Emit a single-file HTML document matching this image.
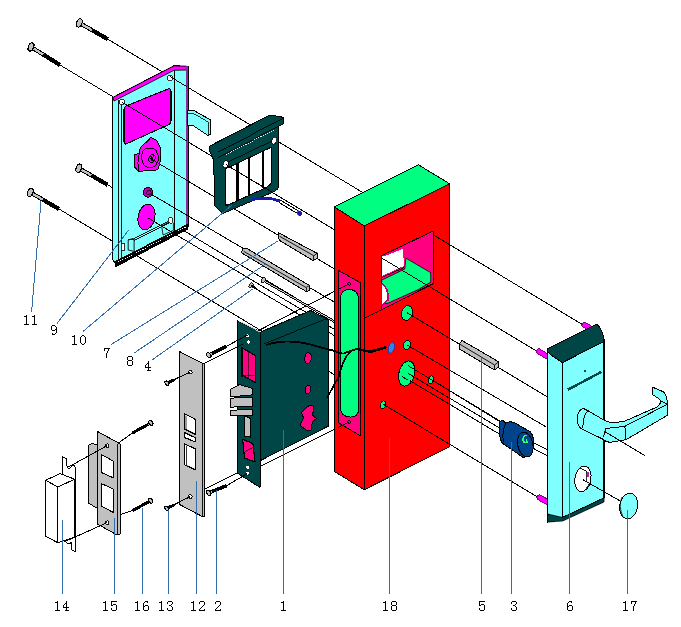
<!DOCTYPE html>
<html><head><meta charset="utf-8"><style>html,body{margin:0;padding:0;background:#fff;width:681px;height:627px;overflow:hidden}svg{display:block}</style></head>
<body><svg width="681" height="627" viewBox="0 0 681 627" shape-rendering="crispEdges"><line x1="107.0" y1="38.7" x2="586.0" y2="326.7" stroke="#000" stroke-width="1"/>
<line x1="60.0" y1="65.0" x2="541.0" y2="353.7" stroke="#000" stroke-width="1"/>
<line x1="148.0" y1="157.0" x2="582.0" y2="417.8" stroke="#000" stroke-width="1"/>
<line x1="148.0" y1="192.3" x2="546.0" y2="426.9" stroke="#000" stroke-width="1"/>
<line x1="107.0" y1="184.4" x2="500.0" y2="421.0" stroke="#000" stroke-width="1"/>
<line x1="146.0" y1="216.7" x2="500.0" y2="428.3" stroke="#000" stroke-width="1"/>
<line x1="59.0" y1="209.0" x2="542.0" y2="499.8" stroke="#000" stroke-width="1"/>
<line x1="250.0" y1="285.3" x2="500.0" y2="434.4" stroke="#000" stroke-width="1"/>
<line x1="431.6" y1="379.6" x2="499.7" y2="421.5" stroke="#000" stroke-width="1"/>
<line x1="248.0" y1="336.0" x2="349.2" y2="283.8" stroke="#000" stroke-width="1"/>
<line x1="249.0" y1="472.0" x2="349.2" y2="422.0" stroke="#000" stroke-width="1"/>
<line x1="203.4" y1="364.0" x2="241.3" y2="344.7" stroke="#000" stroke-width="1"/>
<line x1="204.3" y1="489.3" x2="237.8" y2="472.6" stroke="#000" stroke-width="1"/>
<line x1="226.3" y1="346.4" x2="247.5" y2="335.0" stroke="#000" stroke-width="1"/>
<line x1="226.3" y1="485.8" x2="247.5" y2="473.5" stroke="#000" stroke-width="1"/>
<line x1="172.6" y1="380.8" x2="190.2" y2="372.0" stroke="#000" stroke-width="1"/>
<line x1="172.6" y1="505.5" x2="190.2" y2="496.7" stroke="#000" stroke-width="1"/>
<line x1="107.0" y1="445.7" x2="68.6" y2="466.9" stroke="#000" stroke-width="1"/>
<line x1="107.0" y1="522.7" x2="64.6" y2="541.7" stroke="#000" stroke-width="1"/>
<line x1="119.3" y1="442.3" x2="132.9" y2="432.7" stroke="#000" stroke-width="1"/>
<line x1="119.3" y1="514.9" x2="132.9" y2="510.5" stroke="#000" stroke-width="1"/>
<line x1="533.0" y1="442.5" x2="547.0" y2="449.6" stroke="#000" stroke-width="1"/>
<line x1="532.0" y1="447.7" x2="547.0" y2="455.6" stroke="#000" stroke-width="1"/>
<line x1="79.3" y1="22.9" x2="91.9" y2="30.1" stroke="#000" stroke-width="4.2"/>
<line x1="79.3" y1="22.9" x2="91.9" y2="30.1" stroke="#c0c0c0" stroke-width="2.2"/>
<line x1="91.9" y1="30.1" x2="107.7" y2="39.1" stroke="#000" stroke-width="4.2"/>
<ellipse cx="79.3" cy="22.9" rx="2.6" ry="4.3" fill="#c0c0c0" stroke="#000" stroke-width="1.1" transform="rotate(19.701409545410577 79.3 22.9)"/>
<line x1="31.0" y1="47.0" x2="43.3" y2="54.6" stroke="#000" stroke-width="4.2"/>
<line x1="31.0" y1="47.0" x2="43.3" y2="54.6" stroke="#c0c0c0" stroke-width="2.2"/>
<line x1="43.3" y1="54.6" x2="60.0" y2="65.0" stroke="#000" stroke-width="4.2"/>
<ellipse cx="31.0" cy="47.0" rx="2.6" ry="4.3" fill="#c0c0c0" stroke="#000" stroke-width="1.1" transform="rotate(21.827446576673108 31.0 47.0)"/>
<line x1="78.8" y1="168.2" x2="91.4" y2="175.4" stroke="#000" stroke-width="4.2"/>
<line x1="78.8" y1="168.2" x2="91.4" y2="175.4" stroke="#c0c0c0" stroke-width="2.2"/>
<line x1="91.4" y1="175.4" x2="107.6" y2="184.8" stroke="#000" stroke-width="4.2"/>
<ellipse cx="78.8" cy="168.2" rx="2.6" ry="4.3" fill="#c0c0c0" stroke="#000" stroke-width="1.1" transform="rotate(19.958670526819375 78.8 168.2)"/>
<line x1="30.3" y1="192.4" x2="42.9" y2="199.7" stroke="#000" stroke-width="4.2"/>
<line x1="30.3" y1="192.4" x2="42.9" y2="199.7" stroke="#c0c0c0" stroke-width="2.2"/>
<line x1="42.9" y1="199.7" x2="59.0" y2="209.0" stroke="#000" stroke-width="4.2"/>
<ellipse cx="30.3" cy="192.4" rx="2.6" ry="4.3" fill="#c0c0c0" stroke="#000" stroke-width="1.1" transform="rotate(20.0449686813477 30.3 192.4)"/>
<polygon points="112.8,97.5 174.0,65.8 188.0,66.3 188.0,227.0 116.6,265.5 113.0,260.0" fill="#80ffff" stroke="#000" stroke-width="1" stroke-linejoin="round" />
<polygon points="112.8,97.5 174.0,65.8 186.5,66.2 186.5,70.0 174.0,70.3 114.0,101.0" fill="#ff00ff" stroke="#000" stroke-width="0.9" stroke-linejoin="round" />
<rect x="185.8" y="66" width="2.4" height="161" fill="#8a2aa0"/>
<line x1="174.5" y1="70.0" x2="174.5" y2="232.0" stroke="#000" stroke-width="1"/>
<line x1="118.6" y1="100.0" x2="118.6" y2="262.0" stroke="#000" stroke-width="0.9"/>
<line x1="121.0" y1="100.0" x2="121.0" y2="262.0" stroke="#000" stroke-width="0.9"/>
<polygon points="114.6,262.0 187.5,224.5 187.5,229.0 116.0,266.5" fill="#000" stroke="#000" stroke-width="1" stroke-linejoin="round" />
<line x1="118" y1="262.2" x2="186" y2="227" stroke="#fff" stroke-width="1" stroke-dasharray="1,1.5"/>
<path d="M126,106 L168,89 Q171,88 171,91 L171,121 Q171,124 168,125 L127,143.5 Q124,145 124,142 L124,109 Q124,107 126,106 Z" fill="#ff00ff" stroke="#000" stroke-width="1.1" stroke-linejoin="round" />
<ellipse cx="170.0" cy="78.0" rx="2.5" ry="3.2" fill="#fff" stroke="#000" stroke-width="0.8" transform="rotate(0 170.0 78.0)"/>
<ellipse cx="122.0" cy="102.0" rx="2.5" ry="3.2" fill="#fff" stroke="#000" stroke-width="0.8" transform="rotate(0 122.0 102.0)"/>
<path d="M150.5,137.4 L156.9,140.6 L160.1,147 L160.1,161.3 L158.5,168.5 L155.3,170.5 L148.9,170.1 L138.6,171.7 L134.6,166.9 L134.2,154.9 L139.4,153.3 L140.2,147.8 L144.1,143.8 L148.1,140.6 Z" fill="#ff00ff" stroke="#000" stroke-width="1" stroke-linejoin="round" />
<path d="M139.4,153.3 Q137,162 138.6,171.5" fill="none" stroke="#000" stroke-width="1" stroke-linejoin="round" />
<path d="M143,151 Q146,147 151,149 Q156,148 157,153 Q160,158 157,163 Q155,168 150,167 Q145,168 143,163 Q140,157 143,151 Z" fill="none" stroke="#000" stroke-width="1" stroke-linejoin="round" />
<ellipse cx="152.0" cy="158.5" rx="3" ry="4" fill="none" stroke="#000" stroke-width="1" transform="rotate(20 152.0 158.5)"/>
<line x1="150.0" y1="155.0" x2="154.0" y2="162.0" stroke="#000" stroke-width="1.2"/>
<line x1="154.0" y1="155.0" x2="151.0" y2="161.0" stroke="#000" stroke-width="1"/>
<ellipse cx="148.0" cy="192.3" rx="4.8" ry="5" fill="#b000b0" stroke="#000" stroke-width="1" transform="rotate(0 148.0 192.3)"/>
<ellipse cx="149.0" cy="192.5" rx="2.2" ry="2.6" fill="none" stroke="#000" stroke-width="0.7" transform="rotate(0 149.0 192.5)"/>
<ellipse cx="146.5" cy="217.0" rx="8.4" ry="13" fill="#ff00ff" stroke="#000" stroke-width="1" transform="rotate(12 146.5 217.0)"/>
<polygon points="128.2,240.0 133.0,238.5 134.1,239.1 134.1,251.4 128.2,250.0" fill="#80ffff" stroke="#000" stroke-width="0.9" stroke-linejoin="round" />
<line x1="128.2" y1="240.0" x2="134.1" y2="239.1" stroke="#000" stroke-width="0.8"/>
<line x1="134.1" y1="238.5" x2="171.1" y2="219.7" stroke="#000" stroke-width="0.9"/>
<line x1="134.1" y1="240.5" x2="171.1" y2="221.7" stroke="#000" stroke-width="0.9"/>
<line x1="136" y1="239.5" x2="169" y2="222.7" stroke="#000" stroke-width="0.8" stroke-dasharray="1,1"/>
<polygon points="161.7,226.0 171.0,221.0 173.4,223.0 173.4,230.3 163.0,235.0" fill="none" stroke="#000" stroke-width="0.8" stroke-linejoin="round" />
<ellipse cx="170.5" cy="220.3" rx="2.2" ry="2.8" fill="#fff" stroke="#000" stroke-width="0.8" transform="rotate(0 170.5 220.3)"/>
<rect x="121.2" y="243.8" width="3.5" height="6.4" fill="#fff" stroke="#000" stroke-width="0.8"/>
<polygon points="187.5,110.4 193.6,110.4 210.2,119.7 210.5,134.5 208.0,135.5 192.9,125.5 187.5,125.5" fill="#80ffff" stroke="#000" stroke-width="1" stroke-linejoin="round" />
<line x1="187.5" y1="113.5" x2="193.6" y2="113.5" stroke="#000" stroke-width="0.8"/>
<line x1="193.6" y1="113.5" x2="208.0" y2="122.0" stroke="#000" stroke-width="0.8"/>
<line x1="208.0" y1="122.0" x2="208.0" y2="135.5" stroke="#000" stroke-width="0.8"/>
<line x1="170.0" y1="76.6" x2="187.5" y2="87.1" stroke="#000" stroke-width="1"/>
<line x1="122.0" y1="102.2" x2="187.5" y2="141.5" stroke="#000" stroke-width="1"/>
<line x1="150.0" y1="158.2" x2="187.5" y2="180.7" stroke="#000" stroke-width="1"/>
<line x1="150.0" y1="193.5" x2="187.5" y2="215.6" stroke="#000" stroke-width="1"/>
<line x1="148.0" y1="217.9" x2="176.0" y2="234.6" stroke="#000" stroke-width="1"/>
<path d="M209.4,146.2 L268.7,115.6 L279.9,116.2 L283.7,118.1 L283.7,123.7 L278.7,126 L278.7,187.3 Q277.5,191 266,195 L222.6,213.6 L214.7,205.7 L213.7,160 L209.4,151 Z M225.2,169 L271.7,147 L271.7,181 Q271,186 262,189.5 L226,206 Z" fill="#004646" stroke="#000" stroke-width="1" stroke-linejoin="round" fill-rule="evenodd"/>
<line x1="217.5" y1="151.8" x2="283.7" y2="118.1" stroke="#000" stroke-width="0.9"/>
<line x1="217.5" y1="157.4" x2="283.7" y2="123.7" stroke="#000" stroke-width="0.9"/>
<line x1="226.2" y1="154.3" x2="274.3" y2="130" stroke="#fff" stroke-width="0.9" stroke-dasharray="1.2,1.2"/>
<line x1="226.0" y1="163.0" x2="274.0" y2="140.0" stroke="#000" stroke-width="0.8"/>
<rect x="236.4" y="162.7" width="2.2" height="38.3" fill="#000"/>
<rect x="248.2" y="157.1" width="2.2" height="38.2" fill="#000"/>
<rect x="261.9" y="150.6" width="2.2" height="37.8" fill="#000"/>
<ellipse cx="225.6" cy="164.3" rx="2.5" ry="3.8" fill="#fff" stroke="#000" stroke-width="0.8" transform="rotate(20 225.6 164.3)"/>
<ellipse cx="274.3" cy="140.6" rx="2.5" ry="3.8" fill="#fff" stroke="#000" stroke-width="0.8" transform="rotate(20 274.3 140.6)"/>
<line x1="226.0" y1="164.6" x2="271.7" y2="192.0" stroke="#000" stroke-width="1"/>
<path d="M252,199.8 Q266,196 280,201" fill="none" stroke="#1a1aa8" stroke-width="2.8" stroke-linejoin="round" />
<line x1="280.0" y1="199.8" x2="298.0" y2="210.8" stroke="#000" stroke-width="1"/>
<line x1="279.0" y1="202.5" x2="297.0" y2="213.2" stroke="#000" stroke-width="1"/>
<ellipse cx="299.5" cy="213.3" rx="2.6" ry="2.2" fill="#1a1aa8" stroke="#1a1aa8" stroke-width="0.5" transform="rotate(30 299.5 213.3)"/>
<polygon points="278.7,232.9 317.0,253.3 317.0,258.2 313.2,260.7 279.3,240.3 278.1,236.0" fill="#c0c0c0" stroke="#000" stroke-width="1" stroke-linejoin="round" />
<polyline points="280.0,236.5 313.9,255.8 317.0,253.3" fill="none" stroke="#000" stroke-width="0.9" stroke-linejoin="round" stroke-linecap="round"/>
<line x1="313.9" y1="255.8" x2="313.5" y2="260.5" stroke="#000" stroke-width="0.9"/>
<polygon points="242.3,249.0 246.0,248.0 309.5,285.5 309.5,290.0 307.0,292.0 241.7,253.0" fill="#c0c0c0" stroke="#000" stroke-width="1" stroke-linejoin="round" />
<polyline points="244.0,251.5 306.0,287.5 309.5,285.5" fill="none" stroke="#000" stroke-width="0.9" stroke-linejoin="round" stroke-linecap="round"/>
<line x1="306.0" y1="287.5" x2="306.0" y2="292.0" stroke="#000" stroke-width="0.9"/>
<line x1="263.2" y1="280.2" x2="335.0" y2="321.9" stroke="#000" stroke-width="2.6"/>
<line x1="263.2" y1="280.2" x2="335.0" y2="321.9" stroke="#fff" stroke-width="0.8"/>
<ellipse cx="263.2" cy="280.2" rx="2" ry="2.8" fill="#c0c0c0" stroke="#000" stroke-width="0.9" transform="rotate(30 263.2 280.2)"/>
<ellipse cx="251.0" cy="285.5" rx="2" ry="2.8" fill="#c0c0c0" stroke="#000" stroke-width="0.9" transform="rotate(30 251.0 285.5)"/>
<line x1="251.0" y1="285.5" x2="257.0" y2="289.0" stroke="#000" stroke-width="1.8"/>
<polygon points="334.3,206.9 364.3,225.9 364.3,489.7 334.3,471.5" fill="#ff0000" stroke="#000" stroke-width="1" stroke-linejoin="round" />
<polygon points="364.3,225.9 449.6,183.8 449.6,446.7 364.3,489.7" fill="#ff0000" stroke="#000" stroke-width="1" stroke-linejoin="round" />
<polygon points="334.3,206.9 418.3,164.7 449.6,183.8 364.3,225.9" fill="#00ff80" stroke="#000" stroke-width="1" stroke-linejoin="round" />
<polygon points="338.4,270.4 360.1,282.5 360.7,436.0 338.4,422.7" fill="#ff0080" stroke="#000" stroke-width="1" stroke-linejoin="round" />
<path d="M340.3,300 Q340.3,289.5 349.2,289.5 Q358.8,289.5 358.8,302 L358.8,408 Q358.8,417 350.5,417 Q340.3,417 340.3,406 Z" fill="#00ff80" stroke="#000" stroke-width="1" stroke-linejoin="round" />
<ellipse cx="349.2" cy="283.8" rx="1.4" ry="1.4" fill="none" stroke="#000" stroke-width="0.9" transform="rotate(0 349.2 283.8)"/>
<ellipse cx="349.2" cy="422.0" rx="1.4" ry="1.4" fill="none" stroke="#000" stroke-width="0.9" transform="rotate(0 349.2 422.0)"/>
<polygon points="381.2,255.9 433.0,231.2 433.0,283.7 381.2,310.0" fill="#ff0080" stroke="#000" stroke-width="1" stroke-linejoin="round" />
<polygon points="381.6,256.2 384.7,256.2 402.6,248.9 404.3,265.7 381.6,276.2" fill="#fff" stroke="none" stroke-width="0" stroke-linejoin="round" />
<line x1="381.6" y1="277.5" x2="404.3" y2="267.5" stroke="#000" stroke-width="0.8"/>
<polygon points="381.6,280.2 404.8,269.0 405.9,258.2 430.6,272.6 430.6,282.2 418.0,289.7 388.0,303.1 381.6,304.0" fill="#00ff80" stroke="#000" stroke-width="0.8" stroke-linejoin="round" />
<path d="M381.6,283.5 Q389,288 388,300 L381.6,305.3 Z" fill="#fff" stroke="#c00070" stroke-width="1.5" stroke-linejoin="round" />
<line x1="381.5" y1="257.9" x2="431.0" y2="287.6" stroke="#000" stroke-width="1"/>
<line x1="364.3" y1="318.3" x2="381.2" y2="309.9" stroke="#000" stroke-width="1"/>
<ellipse cx="407.0" cy="313.0" rx="5.5" ry="7.5" fill="#00ff80" stroke="#000" stroke-width="1" transform="rotate(15 407.0 313.0)"/>
<ellipse cx="407.0" cy="345.0" rx="3.5" ry="5" fill="#00ff80" stroke="#000" stroke-width="1" transform="rotate(15 407.0 345.0)"/>
<ellipse cx="406.7" cy="373.5" rx="7.8" ry="12.8" fill="#00ff80" stroke="#000" stroke-width="1" transform="rotate(14 406.7 373.5)"/>
<ellipse cx="430.8" cy="379.6" rx="2.5" ry="4" fill="#00ff80" stroke="#000" stroke-width="1" transform="rotate(15 430.8 379.6)"/>
<ellipse cx="383.0" cy="404.6" rx="2.8" ry="4" fill="#00ff80" stroke="#000" stroke-width="1" transform="rotate(15 383.0 404.6)"/>
<line x1="433.0" y1="234.7" x2="449.6" y2="244.7" stroke="#000" stroke-width="1"/>
<line x1="431.0" y1="287.6" x2="449.6" y2="298.8" stroke="#000" stroke-width="1"/>
<line x1="407.0" y1="312.7" x2="449.6" y2="338.3" stroke="#000" stroke-width="1"/>
<line x1="407.0" y1="344.9" x2="449.6" y2="370.0" stroke="#000" stroke-width="1"/>
<line x1="408.0" y1="365.6" x2="449.6" y2="390.6" stroke="#000" stroke-width="1"/>
<line x1="408.0" y1="373.3" x2="449.6" y2="398.2" stroke="#000" stroke-width="1"/>
<line x1="410.0" y1="380.7" x2="449.6" y2="404.3" stroke="#000" stroke-width="1"/>
<line x1="383.0" y1="404.1" x2="449.6" y2="444.2" stroke="#000" stroke-width="1"/>
<line x1="431.6" y1="379.6" x2="449.6" y2="390.6" stroke="#000" stroke-width="1"/>
<line x1="401.7" y1="376.3" x2="408.4" y2="380.2" stroke="#000" stroke-width="1"/>
<line x1="349.2" y1="283.8" x2="338.4" y2="289.5" stroke="#000" stroke-width="1"/>
<line x1="349.2" y1="422.0" x2="338.4" y2="427.5" stroke="#000" stroke-width="1"/>
<polygon points="259.5,332.5 310.6,310.5 328.4,320.0 328.6,426.0 259.5,461.0" fill="#004646" stroke="#000" stroke-width="1" stroke-linejoin="round" />
<polygon points="237.6,320.7 260.0,331.5 260.0,487.4 237.6,473.3" fill="#004646" stroke="#000" stroke-width="1" stroke-linejoin="round" />
<line x1="260.0" y1="331.5" x2="260.0" y2="487.4" stroke="#000" stroke-width="1"/>
<line x1="238.5" y1="321.0" x2="259.5" y2="331.5" stroke="#fff" stroke-width="0.8"/>
<polygon points="242.2,348.0 255.4,355.5 255.4,382.6 242.2,375.0" fill="#ff0080" stroke="#000" stroke-width="1.2" stroke-linejoin="round" />
<line x1="242.2" y1="375.0" x2="255.4" y2="375.0" stroke="#000" stroke-width="0.6"/>
<line x1="248.0" y1="352.0" x2="248.0" y2="378.0" stroke="#000" stroke-width="0.6"/>
<polygon points="242.6,439.3 252.9,443.5 255.0,462.0 244.6,458.0" fill="#ff0080" stroke="#000" stroke-width="1.2" stroke-linejoin="round" />
<line x1="243.5" y1="452.0" x2="254.0" y2="446.0" stroke="#000" stroke-width="0.7"/>
<polygon points="230.1,389.7 239.4,384.5 252.9,388.6 252.9,394.8 230.1,396.9" fill="#c0c0c0" stroke="#000" stroke-width="1" stroke-linejoin="round" />
<polygon points="230.1,399.0 236.0,397.5 252.9,397.9 252.9,406.2 230.1,407.2" fill="#c0c0c0" stroke="#000" stroke-width="1" stroke-linejoin="round" />
<polygon points="230.1,410.3 252.9,409.3 252.9,415.5 230.1,415.5" fill="#c0c0c0" stroke="#000" stroke-width="1" stroke-linejoin="round" />
<polygon points="244.6,415.5 250.8,418.6 250.8,437.2 244.6,436.2" fill="#c0c0c0" stroke="#000" stroke-width="1" stroke-linejoin="round" />
<ellipse cx="308.0" cy="358.1" rx="3.4" ry="5.4" fill="#ff0080" stroke="#000" stroke-width="1" transform="rotate(10 308.0 358.1)"/>
<ellipse cx="308.0" cy="389.4" rx="2.7" ry="4.4" fill="#ff0080" stroke="#000" stroke-width="1" transform="rotate(10 308.0 389.4)"/>
<polygon points="309.0,405.6 313.0,405.6 313.7,409.7 312.4,415.1 316.4,418.5 312.4,421.9 311.0,430.0 306.9,430.7 300.1,425.3 303.5,417.8 301.5,412.4 305.6,408.3" fill="#ff0080" stroke="#000" stroke-width="1" stroke-linejoin="round" />
<ellipse cx="247.5" cy="335.9" rx="1.6" ry="1.6" fill="#fff" stroke="none" stroke-width="0" transform="rotate(0 247.5 335.9)"/>
<ellipse cx="248.4" cy="342.0" rx="1.6" ry="1.6" fill="#fff" stroke="none" stroke-width="0" transform="rotate(0 248.4 342.0)"/>
<ellipse cx="247.8" cy="467.3" rx="1.6" ry="1.6" fill="#fff" stroke="none" stroke-width="0" transform="rotate(0 247.8 467.3)"/>
<ellipse cx="247.8" cy="473.1" rx="1.6" ry="1.6" fill="#fff" stroke="none" stroke-width="0" transform="rotate(0 247.8 473.1)"/>
<line x1="264.0" y1="344.0" x2="328.0" y2="318.0" stroke="#000" stroke-width="0.8"/>
<path d="M266,345 Q290,337 320,347.3 L332.8,350.5 L343,353.7 Q349,351 358.3,348.6 Q365,351 371,351.1 L386.3,346.7" fill="none" stroke="#000" stroke-width="1.8" stroke-linejoin="round" />
<path d="M327,398 L339.1,376 Q343,360 348,354.3 Q352,349.5 357,349.2 L371,352.4 L386.3,347.5" fill="none" stroke="#000" stroke-width="1.6" stroke-linejoin="round" />
<ellipse cx="391.4" cy="348.0" rx="2.8" ry="5.5" fill="#3a7ef0" stroke="#1a3aa0" stroke-width="0.8" transform="rotate(15 391.4 348.0)"/>
<line x1="226.3" y1="346.4" x2="247.5" y2="335.0" stroke="#000" stroke-width="1"/>
<line x1="226.3" y1="485.8" x2="247.5" y2="473.5" stroke="#000" stroke-width="1"/>
<line x1="203.4" y1="364.0" x2="242.5" y2="344.2" stroke="#000" stroke-width="1"/>
<line x1="242" y1="347" x2="242" y2="377" stroke="#000" stroke-width="1.5"/>
<line x1="208.7" y1="355.2" x2="212.3" y2="353.4" stroke="#000" stroke-width="3.5"/>
<line x1="208.7" y1="355.2" x2="212.3" y2="353.4" stroke="#c0c0c0" stroke-width="1.5"/>
<line x1="212.3" y1="353.4" x2="226.3" y2="346.4" stroke="#000" stroke-width="3.5"/>
<ellipse cx="208.7" cy="355.2" rx="1.8" ry="2.8" fill="#c0c0c0" stroke="#000" stroke-width="1.1" transform="rotate(-36.56505117707799 208.7 355.2)"/>
<line x1="208.7" y1="492.9" x2="212.4" y2="491.4" stroke="#000" stroke-width="3.5"/>
<line x1="208.7" y1="492.9" x2="212.4" y2="491.4" stroke="#c0c0c0" stroke-width="1.5"/>
<line x1="212.4" y1="491.4" x2="226.3" y2="485.8" stroke="#000" stroke-width="3.5"/>
<ellipse cx="208.7" cy="492.9" rx="1.8" ry="2.8" fill="#c0c0c0" stroke="#000" stroke-width="1.1" transform="rotate(-31.969596222987256 208.7 492.9)"/>
<polygon points="179.2,351.4 202.6,363.2 204.3,364.4 204.3,516.5 202.6,516.7 179.2,504.3" fill="#c0c0c0" stroke="#000" stroke-width="1" stroke-linejoin="round" />
<line x1="202.6" y1="363.2" x2="202.6" y2="516.7" stroke="#000" stroke-width="0.9"/>
<ellipse cx="190.2" cy="372.0" rx="2" ry="2" fill="#fff" stroke="#000" stroke-width="0.9" transform="rotate(0 190.2 372.0)"/>
<ellipse cx="190.2" cy="496.7" rx="2" ry="2" fill="#fff" stroke="#000" stroke-width="0.9" transform="rotate(0 190.2 496.7)"/>
<polygon points="184.2,413.6 195.2,419.2 195.2,434.4 184.2,428.7" fill="#fff" stroke="#000" stroke-width="1.2" stroke-linejoin="round" />
<polyline points="186.0,416.0 186.0,429.5" fill="none" stroke="#000" stroke-width="0.8" stroke-linejoin="round" stroke-linecap="round"/>
<polyline points="186.0,429.5 195.0,434.0" fill="none" stroke="#000" stroke-width="0.8" stroke-linejoin="round" stroke-linecap="round"/>
<polygon points="184.2,432.5 195.2,437.6 195.2,442.0 184.2,437.3" fill="#fff" stroke="#000" stroke-width="1.2" stroke-linejoin="round" />
<polygon points="184.8,444.0 195.2,448.9 195.2,469.7 184.8,465.0" fill="#fff" stroke="#000" stroke-width="1.2" stroke-linejoin="round" />
<polyline points="186.5,446.0 186.5,465.5 195.0,469.5" fill="none" stroke="#000" stroke-width="0.8" stroke-linejoin="round" stroke-linecap="round"/>
<line x1="172.0" y1="380.5" x2="190.2" y2="372.0" stroke="#000" stroke-width="1"/>
<line x1="172.0" y1="505.3" x2="190.2" y2="496.7" stroke="#000" stroke-width="1"/>
<line x1="166.8" y1="383.2" x2="168.6" y2="382.4" stroke="#000" stroke-width="3"/>
<line x1="166.8" y1="383.2" x2="168.6" y2="382.4" stroke="#c0c0c0" stroke-width="1"/>
<line x1="168.6" y1="382.4" x2="174.5" y2="379.8" stroke="#000" stroke-width="3"/>
<ellipse cx="166.8" cy="383.2" rx="1.6" ry="2.4" fill="#c0c0c0" stroke="#000" stroke-width="1.1" transform="rotate(-33.824260582895306 166.8 383.2)"/>
<line x1="166.8" y1="508.3" x2="168.6" y2="507.5" stroke="#000" stroke-width="3"/>
<line x1="166.8" y1="508.3" x2="168.6" y2="507.5" stroke="#c0c0c0" stroke-width="1"/>
<line x1="168.6" y1="507.5" x2="174.5" y2="504.8" stroke="#000" stroke-width="3"/>
<ellipse cx="166.8" cy="508.3" rx="1.6" ry="2.4" fill="#c0c0c0" stroke="#000" stroke-width="1.1" transform="rotate(-34.44395478041657 166.8 508.3)"/>
<polygon points="88.0,445.7 92.5,443.4 97.0,445.0 97.0,507.0 94.7,507.0 88.0,502.6" fill="#c0c0c0" stroke="#000" stroke-width="1" stroke-linejoin="round" />
<polygon points="97.0,431.2 119.3,443.4 120.0,444.0 120.0,533.9 117.0,535.0 97.0,523.8" fill="#c0c0c0" stroke="#000" stroke-width="1" stroke-linejoin="round" />
<line x1="117.0" y1="444.0" x2="117.0" y2="535.0" stroke="#000" stroke-width="0.9"/>
<ellipse cx="107.0" cy="445.7" rx="2" ry="2" fill="#fff" stroke="#000" stroke-width="0.9" transform="rotate(0 107.0 445.7)"/>
<ellipse cx="107.0" cy="522.7" rx="2" ry="2" fill="#fff" stroke="#000" stroke-width="0.9" transform="rotate(0 107.0 522.7)"/>
<polygon points="101.4,454.6 113.7,461.3 113.7,478.0 101.4,472.5" fill="#fff" stroke="#000" stroke-width="1" stroke-linejoin="round" />
<polygon points="101.4,483.6 113.7,489.2 113.7,512.7 101.4,506.0" fill="#fff" stroke="#000" stroke-width="1" stroke-linejoin="round" />
<path d="M62.3,456.8 L66.8,459 L66.8,466 Q68.6,471 72,466 L73.5,464.7 L75.7,468 L75.7,551.8 L71.3,549.5 L71.3,542 Q69,546 66,542 L62.3,540 Z" fill="#fff" stroke="#000" stroke-width="1" stroke-linejoin="round" />
<polygon points="45.6,480.3 60.1,473.6 74.6,479.2 74.6,537.2 57.9,542.8 45.6,536.1" fill="#fff" stroke="#000" stroke-width="1" stroke-linejoin="round" />
<line x1="45.6" y1="480.3" x2="57.9" y2="487.0" stroke="#000" stroke-width="1"/>
<line x1="57.9" y1="487.0" x2="74.6" y2="479.2" stroke="#000" stroke-width="1"/>
<line x1="57.9" y1="487.0" x2="57.9" y2="542.8" stroke="#000" stroke-width="1"/>
<line x1="107.0" y1="445.7" x2="68.6" y2="466.9" stroke="#000" stroke-width="1"/>
<line x1="107.0" y1="522.7" x2="64.6" y2="541.7" stroke="#000" stroke-width="1"/>
<line x1="150.8" y1="423.0" x2="148.2" y2="424.4" stroke="#000" stroke-width="3"/>
<line x1="150.8" y1="423.0" x2="148.2" y2="424.4" stroke="#c0c0c0" stroke-width="1"/>
<line x1="148.2" y1="424.4" x2="132.9" y2="432.7" stroke="#000" stroke-width="3"/>
<ellipse cx="150.8" cy="423.0" rx="1.8" ry="2.6" fill="#c0c0c0" stroke="#000" stroke-width="1.1" transform="rotate(141.54676081618112 150.8 423.0)"/>
<line x1="150.6" y1="500.8" x2="148.0" y2="502.2" stroke="#000" stroke-width="3"/>
<line x1="150.6" y1="500.8" x2="148.0" y2="502.2" stroke="#c0c0c0" stroke-width="1"/>
<line x1="148.0" y1="502.2" x2="132.9" y2="510.5" stroke="#000" stroke-width="3"/>
<ellipse cx="150.6" cy="500.8" rx="1.8" ry="2.6" fill="#c0c0c0" stroke="#000" stroke-width="1.1" transform="rotate(141.27626294206 150.6 500.8)"/>
<line x1="584.5" y1="325" x2="594" y2="330.5" stroke="#800080" stroke-width="6" stroke-linecap="round"/>
<line x1="584.5" y1="325" x2="594" y2="330.5" stroke="#ff00ff" stroke-width="4.2" stroke-linecap="round"/>
<line x1="539" y1="351.5" x2="549" y2="357.5" stroke="#800080" stroke-width="6" stroke-linecap="round"/>
<line x1="539" y1="351.5" x2="549" y2="357.5" stroke="#ff00ff" stroke-width="4.2" stroke-linecap="round"/>
<line x1="539.5" y1="497.5" x2="549" y2="503" stroke="#800080" stroke-width="6" stroke-linecap="round"/>
<line x1="539.5" y1="497.5" x2="549" y2="503" stroke="#ff00ff" stroke-width="4.2" stroke-linecap="round"/>
<polygon points="547.5,348.6 604.0,339.0 604.0,498.0 562.6,517.5 547.6,522.0" fill="#80ffff" stroke="#000" stroke-width="1.2" stroke-linejoin="round" />
<path d="M547.5,348.6 L596.7,324 Q603,330 603.7,339 L603.7,341.6 L562.5,362.6 Q552,356 547.5,352 Z" fill="#004646" stroke="#000" stroke-width="1" stroke-linejoin="round" />
<line x1="562.5" y1="362.6" x2="562.6" y2="517.5" stroke="#000" stroke-width="1"/>
<polygon points="547.6,514.0 562.6,517.5 604.0,498.0 604.0,502.0 562.6,521.0 547.6,522.0" fill="#004646" stroke="#000" stroke-width="0.8" stroke-linejoin="round" />
<line x1="567.7" y1="389.8" x2="601.6" y2="371.8" stroke="#004646" stroke-width="2.5"/>
<ellipse cx="585.0" cy="371.0" rx="1.6" ry="1.6" fill="#004646" stroke="none" stroke-width="0" transform="rotate(0 585.0 371.0)"/>
<ellipse cx="582.9" cy="478.8" rx="8" ry="13" fill="#fff" stroke="#000" stroke-width="1" transform="rotate(10 582.9 478.8)"/>
<path d="M586.6,471.5 L589,472.5 L589.2,477.5 L586.6,476.5 Z" fill="#b020b0" stroke="none" stroke-width="0" stroke-linejoin="round" />
<line x1="580.2" y1="468.3" x2="586.6" y2="471.5" stroke="#000" stroke-width="0.9"/>
<line x1="586.6" y1="471.5" x2="586.6" y2="482.0" stroke="#000" stroke-width="0.8"/>
<line x1="584.5" y1="491.0" x2="590.5" y2="482.0" stroke="#000" stroke-width="0.8"/>
<path d="M583.8,408.6 L588.2,410.8 L604.4,420.4 Q609,422.6 614.6,422.6 L624.9,421.1 L657,407 Q661,404 660.5,401 Q659,398 652.8,395 L652.8,387.3 L663.1,391.7 Q666.8,394 667.5,404.2 L667.5,415.2 L626.4,439.5 L610.2,442.4 Q605.5,442 603.6,439.5 L580.9,428.5 Q576.5,424 577.2,417 Q578.5,409 583.8,408.6 Z" fill="#80ffff" stroke="#000" stroke-width="1" stroke-linejoin="round" />
<path d="M588.2,410.8 Q583,414 582.8,428.5" fill="none" stroke="#000" stroke-width="1" stroke-linejoin="round" />
<polyline points="603.6,436.5 605.8,428.5 624.9,426.3 625.7,439.8" fill="none" stroke="#000" stroke-width="1" stroke-linejoin="round" stroke-linecap="round"/>
<line x1="624.9" y1="426.3" x2="667.5" y2="404.2" stroke="#000" stroke-width="1"/>
<line x1="660.5" y1="401.0" x2="667.5" y2="404.2" stroke="#000" stroke-width="1"/>
<line x1="605.0" y1="431.7" x2="644.6" y2="455.5" stroke="#000" stroke-width="1"/>
<ellipse cx="628.7" cy="506.0" rx="9" ry="13" fill="#80ffff" stroke="#000" stroke-width="1" transform="rotate(10 628.7 506.0)"/>
<path d="M622,497 Q618,506 623,517" fill="none" stroke="#000" stroke-width="0.8" stroke-linejoin="round" />
<line x1="582.9" y1="479.6" x2="619.9" y2="500.8" stroke="#000" stroke-width="1"/>
<polygon points="462.0,340.5 498.7,361.8 498.7,366.5 494.6,370.0 459.5,349.0 459.5,344.0" fill="#c0c0c0" stroke="#000" stroke-width="1" stroke-linejoin="round" />
<polyline points="459.5,344.0 494.6,365.0 498.7,361.8" fill="none" stroke="#000" stroke-width="0.9" stroke-linejoin="round" stroke-linecap="round"/>
<line x1="494.6" y1="365.0" x2="494.6" y2="370.0" stroke="#000" stroke-width="0.9"/>
<path d="M499.6,421.4 L503.2,420.4 L505.8,423.2 Q510,420.5 515.4,423.2 L530.4,431.9 Q534.5,437 533.5,447 Q531,457 523.3,457.4 L502.3,443.3 Q498.3,437 499.6,421.4 Z" fill="#00448c" stroke="#000" stroke-width="1.1" stroke-linejoin="round" />
<path d="M505.8,423.2 Q501.5,432 503.5,442.5" fill="none" stroke="#000" stroke-width="1" stroke-linejoin="round" />
<ellipse cx="525.3" cy="444.5" rx="7.6" ry="12.6" fill="#00448c" stroke="#000" stroke-width="1" transform="rotate(-12 525.3 444.5)"/>
<path d="M527.5,435.5 Q523.5,434.5 523,439.5 Q523.5,443.5 527,442.5 L526.5,439.5" fill="none" stroke="#30ff70" stroke-width="1.6" stroke-linejoin="round" />
<line x1="31.6" y1="311.7" x2="41.0" y2="201.5" stroke="#336eaa" stroke-width="1"/>
<line x1="57.0" y1="323.5" x2="128.8" y2="230.0" stroke="#336eaa" stroke-width="1"/>
<line x1="82.8" y1="331.7" x2="232.0" y2="205.0" stroke="#336eaa" stroke-width="1"/>
<line x1="111.0" y1="344.6" x2="278.0" y2="241.0" stroke="#336eaa" stroke-width="1"/>
<line x1="134.5" y1="352.8" x2="265.7" y2="264.0" stroke="#336eaa" stroke-width="1"/>
<line x1="152.0" y1="360.0" x2="253.3" y2="288.6" stroke="#336eaa" stroke-width="1"/>
<line x1="62.9" y1="594.0" x2="62.9" y2="520.0" stroke="#336eaa" stroke-width="1"/>
<line x1="114.5" y1="594.0" x2="114.5" y2="517.6" stroke="#336eaa" stroke-width="1"/>
<line x1="142.4" y1="594.0" x2="142.4" y2="507.8" stroke="#336eaa" stroke-width="1"/>
<line x1="168.2" y1="594.0" x2="168.2" y2="509.6" stroke="#336eaa" stroke-width="1"/>
<line x1="196.3" y1="594.0" x2="196.3" y2="480.5" stroke="#336eaa" stroke-width="1"/>
<line x1="216.8" y1="594.0" x2="216.8" y2="490.0" stroke="#336eaa" stroke-width="1"/>
<line x1="283.2" y1="594.0" x2="283.2" y2="430.0" stroke="#336eaa" stroke-width="1"/>
<line x1="389.5" y1="594.0" x2="389.5" y2="438.0" stroke="#336eaa" stroke-width="1"/>
<line x1="481.5" y1="594.0" x2="481.5" y2="358.3" stroke="#336eaa" stroke-width="1"/>
<line x1="511.6" y1="594.0" x2="511.6" y2="442.0" stroke="#336eaa" stroke-width="1"/>
<line x1="569.2" y1="594.0" x2="569.2" y2="462.0" stroke="#336eaa" stroke-width="1"/>
<line x1="627.2" y1="594.0" x2="627.2" y2="509.6" stroke="#336eaa" stroke-width="1"/>
<path fill="#000" d="M26,315h1v1h-1zM24,316h3v1h-3zM26,317h1v1h-1zM26,318h1v1h-1zM26,319h1v1h-1zM26,320h1v1h-1zM26,321h1v1h-1zM26,322h1v1h-1zM26,323h1v1h-1zM24,324h5v1h-5zM34,315h1v1h-1zM32,316h3v1h-3zM34,317h1v1h-1zM34,318h1v1h-1zM34,319h1v1h-1zM34,320h1v1h-1zM34,321h1v1h-1zM34,322h1v1h-1zM34,323h1v1h-1zM32,324h5v1h-5zM52,325h3v1h-3zM51,326h1v1h-1zM55,326h1v1h-1zM51,327h1v1h-1zM56,327h1v1h-1zM51,328h1v1h-1zM56,328h1v1h-1zM51,329h1v1h-1zM55,329h2v1h-2zM52,330h3v1h-3zM56,330h1v1h-1zM56,331h1v1h-1zM56,332h1v1h-1zM52,333h1v1h-1zM55,333h1v1h-1zM52,334h3v1h-3zM74,335h1v1h-1zM72,336h3v1h-3zM74,337h1v1h-1zM74,338h1v1h-1zM74,339h1v1h-1zM74,340h1v1h-1zM74,341h1v1h-1zM74,342h1v1h-1zM74,343h1v1h-1zM72,344h5v1h-5zM82,335h2v1h-2zM81,336h1v1h-1zM84,336h1v1h-1zM80,337h1v1h-1zM85,337h1v1h-1zM80,338h1v1h-1zM85,338h1v1h-1zM80,339h1v1h-1zM85,339h1v1h-1zM80,340h1v1h-1zM85,340h1v1h-1zM80,341h1v1h-1zM85,341h1v1h-1zM80,342h1v1h-1zM85,342h1v1h-1zM81,343h1v1h-1zM84,343h1v1h-1zM82,344h2v1h-2zM104,348h6v1h-6zM104,349h1v1h-1zM108,349h1v1h-1zM104,350h1v1h-1zM108,350h1v1h-1zM107,351h1v1h-1zM107,352h1v1h-1zM106,353h1v1h-1zM106,354h1v1h-1zM106,355h1v1h-1zM106,356h1v1h-1zM106,357h1v1h-1zM128,356h4v1h-4zM127,357h1v1h-1zM132,357h1v1h-1zM127,358h1v1h-1zM132,358h1v1h-1zM127,359h1v1h-1zM132,359h1v1h-1zM128,360h4v1h-4zM127,361h1v1h-1zM132,361h1v1h-1zM127,362h1v1h-1zM132,362h1v1h-1zM127,363h1v1h-1zM132,363h1v1h-1zM127,364h1v1h-1zM132,364h1v1h-1zM128,365h4v1h-4zM148,361h1v1h-1zM148,362h1v1h-1zM147,363h2v1h-2zM146,364h1v1h-1zM148,364h1v1h-1zM145,365h1v1h-1zM148,365h1v1h-1zM145,366h1v1h-1zM148,366h1v1h-1zM145,367h6v1h-6zM148,368h1v1h-1zM148,369h1v1h-1zM147,370h4v1h-4zM57,601h1v1h-1zM55,602h3v1h-3zM57,603h1v1h-1zM57,604h1v1h-1zM57,605h1v1h-1zM57,606h1v1h-1zM57,607h1v1h-1zM57,608h1v1h-1zM57,609h1v1h-1zM55,610h5v1h-5zM66,601h1v1h-1zM66,602h1v1h-1zM65,603h2v1h-2zM64,604h1v1h-1zM66,604h1v1h-1zM63,605h1v1h-1zM66,605h1v1h-1zM63,606h1v1h-1zM66,606h1v1h-1zM63,607h6v1h-6zM66,608h1v1h-1zM66,609h1v1h-1zM65,610h4v1h-4zM105,601h1v1h-1zM103,602h3v1h-3zM105,603h1v1h-1zM105,604h1v1h-1zM105,605h1v1h-1zM105,606h1v1h-1zM105,607h1v1h-1zM105,608h1v1h-1zM105,609h1v1h-1zM103,610h5v1h-5zM111,601h6v1h-6zM111,602h1v1h-1zM111,603h1v1h-1zM111,604h1v1h-1zM113,604h3v1h-3zM111,605h2v1h-2zM116,605h1v1h-1zM116,606h1v1h-1zM116,607h1v1h-1zM111,608h1v1h-1zM116,608h1v1h-1zM111,609h1v1h-1zM116,609h1v1h-1zM112,610h4v1h-4zM137,601h1v1h-1zM135,602h3v1h-3zM137,603h1v1h-1zM137,604h1v1h-1zM137,605h1v1h-1zM137,606h1v1h-1zM137,607h1v1h-1zM137,608h1v1h-1zM137,609h1v1h-1zM135,610h5v1h-5zM145,601h3v1h-3zM144,602h1v1h-1zM147,602h1v1h-1zM143,603h1v1h-1zM143,604h1v1h-1zM143,605h1v1h-1zM145,605h3v1h-3zM143,606h2v1h-2zM148,606h1v1h-1zM143,607h1v1h-1zM148,607h1v1h-1zM143,608h1v1h-1zM148,608h1v1h-1zM143,609h1v1h-1zM148,609h1v1h-1zM144,610h4v1h-4zM161,601h1v1h-1zM159,602h3v1h-3zM161,603h1v1h-1zM161,604h1v1h-1zM161,605h1v1h-1zM161,606h1v1h-1zM161,607h1v1h-1zM161,608h1v1h-1zM161,609h1v1h-1zM159,610h5v1h-5zM168,601h4v1h-4zM167,602h1v1h-1zM172,602h1v1h-1zM167,603h1v1h-1zM172,603h1v1h-1zM171,604h1v1h-1zM169,605h2v1h-2zM171,606h1v1h-1zM172,607h1v1h-1zM167,608h1v1h-1zM172,608h1v1h-1zM167,609h1v1h-1zM172,609h1v1h-1zM168,610h4v1h-4zM193,601h1v1h-1zM191,602h3v1h-3zM193,603h1v1h-1zM193,604h1v1h-1zM193,605h1v1h-1zM193,606h1v1h-1zM193,607h1v1h-1zM193,608h1v1h-1zM193,609h1v1h-1zM191,610h5v1h-5zM200,601h4v1h-4zM199,602h1v1h-1zM204,602h1v1h-1zM199,603h1v1h-1zM204,603h1v1h-1zM204,604h1v1h-1zM203,605h1v1h-1zM202,606h1v1h-1zM201,607h1v1h-1zM200,608h1v1h-1zM199,609h1v1h-1zM204,609h1v1h-1zM199,610h6v1h-6zM216,601h4v1h-4zM215,602h1v1h-1zM220,602h1v1h-1zM215,603h1v1h-1zM220,603h1v1h-1zM220,604h1v1h-1zM219,605h1v1h-1zM218,606h1v1h-1zM217,607h1v1h-1zM216,608h1v1h-1zM215,609h1v1h-1zM220,609h1v1h-1zM215,610h6v1h-6zM283,601h1v1h-1zM281,602h3v1h-3zM283,603h1v1h-1zM283,604h1v1h-1zM283,605h1v1h-1zM283,606h1v1h-1zM283,607h1v1h-1zM283,608h1v1h-1zM283,609h1v1h-1zM281,610h5v1h-5zM385,601h1v1h-1zM383,602h3v1h-3zM385,603h1v1h-1zM385,604h1v1h-1zM385,605h1v1h-1zM385,606h1v1h-1zM385,607h1v1h-1zM385,608h1v1h-1zM385,609h1v1h-1zM383,610h5v1h-5zM392,601h4v1h-4zM391,602h1v1h-1zM396,602h1v1h-1zM391,603h1v1h-1zM396,603h1v1h-1zM391,604h1v1h-1zM396,604h1v1h-1zM392,605h4v1h-4zM391,606h1v1h-1zM396,606h1v1h-1zM391,607h1v1h-1zM396,607h1v1h-1zM391,608h1v1h-1zM396,608h1v1h-1zM391,609h1v1h-1zM396,609h1v1h-1zM392,610h4v1h-4zM479,601h6v1h-6zM479,602h1v1h-1zM479,603h1v1h-1zM479,604h1v1h-1zM481,604h3v1h-3zM479,605h2v1h-2zM484,605h1v1h-1zM484,606h1v1h-1zM484,607h1v1h-1zM479,608h1v1h-1zM484,608h1v1h-1zM479,609h1v1h-1zM484,609h1v1h-1zM480,610h4v1h-4zM512,601h4v1h-4zM511,602h1v1h-1zM516,602h1v1h-1zM511,603h1v1h-1zM516,603h1v1h-1zM515,604h1v1h-1zM513,605h2v1h-2zM515,606h1v1h-1zM516,607h1v1h-1zM511,608h1v1h-1zM516,608h1v1h-1zM511,609h1v1h-1zM516,609h1v1h-1zM512,610h4v1h-4zM569,601h3v1h-3zM568,602h1v1h-1zM571,602h1v1h-1zM567,603h1v1h-1zM567,604h1v1h-1zM567,605h1v1h-1zM569,605h3v1h-3zM567,606h2v1h-2zM572,606h1v1h-1zM567,607h1v1h-1zM572,607h1v1h-1zM567,608h1v1h-1zM572,608h1v1h-1zM567,609h1v1h-1zM572,609h1v1h-1zM568,610h4v1h-4zM625,601h1v1h-1zM623,602h3v1h-3zM625,603h1v1h-1zM625,604h1v1h-1zM625,605h1v1h-1zM625,606h1v1h-1zM625,607h1v1h-1zM625,608h1v1h-1zM625,609h1v1h-1zM623,610h5v1h-5zM631,601h6v1h-6zM631,602h1v1h-1zM635,602h1v1h-1zM631,603h1v1h-1zM635,603h1v1h-1zM634,604h1v1h-1zM634,605h1v1h-1zM633,606h1v1h-1zM633,607h1v1h-1zM633,608h1v1h-1zM633,609h1v1h-1zM633,610h1v1h-1z"/></svg></body></html>
